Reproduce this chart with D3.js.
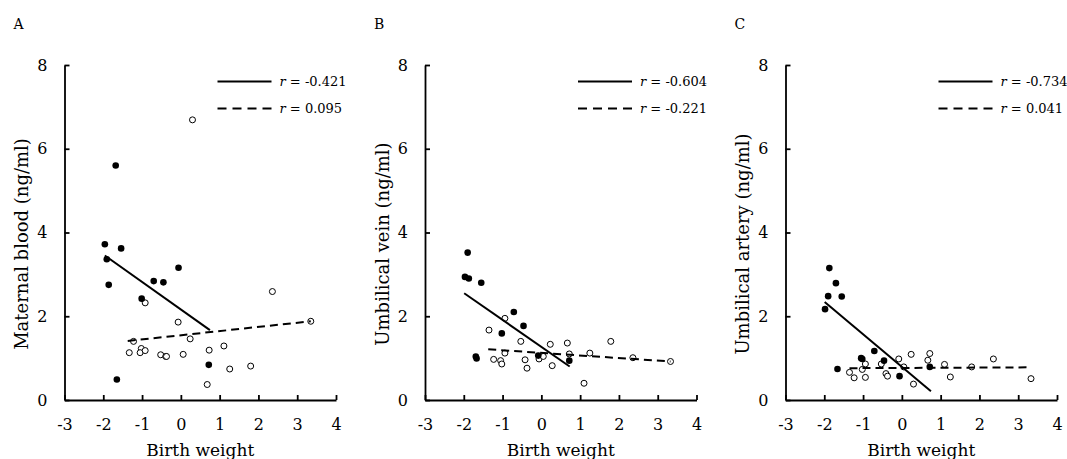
<!DOCTYPE html>
<html>
<head>
<meta charset="utf-8">
<script src="https://cdnjs.cloudflare.com/ajax/libs/d3/7.8.5/d3.min.js"></script>
<style>
    body { margin: 0; background: #fff; }
    svg text { font-family: "DejaVu Serif", "Liberation Serif", serif; fill: #000; }
    .axis path, .axis line { stroke: #000; stroke-width: 1.8; }
</style>
</head>
<body>
<div id="chart"></div>
<script>

// axes
var xTicks = [-3, -2, -1, 0, 1, 2, 3, 4];
var yTicks = [0, 2, 4, 6, 8];

var panelLetters = ["A", "B", "C"];
var yTitles = ["Maternal blood (ng/ml)", "Umbilical vein (ng/ml)", "Umbilical artery (ng/ml)"];
var xTitle = "Birth weight";

// correlation coefficients (solid = filled dots, dashed = open dots)
var rSolid = ["-0.421", "-0.604", "-0.734"];
var rDashed = ["0.095", "-0.221", "0.041"];

// A - maternal blood, [birth weight, value]
var maternalFilled = [[-1.68, 5.60], [-1.96, 3.72], [-1.54, 3.62], [-1.91, 3.36], [-1.86, 2.75],
    [-0.06, 3.16], [-0.70, 2.84], [-0.45, 2.81], [-1.01, 2.42], [0.72, 0.84], [-1.65, 0.49]];
var maternalOpen = [[0.30, 6.69], [2.36, 2.59], [3.35, 1.88], [-0.92, 2.32], [-0.07, 1.86],
    [0.24, 1.46], [-1.22, 1.40], [-1.33, 1.13], [-1.02, 1.23], [-1.05, 1.13], [-0.92, 1.18],
    [-0.52, 1.08], [-0.39, 1.04], [-0.37, 1.04], [0.06, 1.09], [0.73, 1.19], [1.11, 1.29],
    [1.26, 0.74], [1.80, 0.81], [0.68, 0.37]];
var maternalSolidLine = [[-1.96, 3.45], [0.75, 1.67]];
var maternalDashedLine = [[-1.37, 1.41], [3.35, 1.88]];

// B - umbilical vein
var veinFilled = [[-1.90, 3.52], [-1.97, 2.94], [-1.87, 2.90], [-1.55, 2.80], [-0.71, 2.10],
    [-0.46, 1.77], [-1.02, 1.59], [-1.69, 1.04], [-1.67, 0.99], [-0.08, 1.06], [0.72, 0.94]];
var veinOpen = [[-0.94, 1.95], [-1.35, 1.67], [-0.53, 1.40], [0.23, 1.33], [0.67, 1.36],
    [1.79, 1.40], [-0.94, 1.12], [-1.23, 0.97], [-1.05, 0.94], [-1.02, 0.86], [-0.42, 0.96],
    [-0.37, 0.76], [-0.06, 0.98], [0.05, 1.04], [0.28, 0.82], [0.72, 1.10], [1.25, 1.12],
    [2.36, 1.01], [3.33, 0.92], [1.10, 0.40]];
var veinSolidLine = [[-1.99, 2.55], [0.73, 0.80]];
var veinDashedLine = [[-1.37, 1.21], [3.33, 0.92]];

// C - umbilical artery
var arteryFilled = [[-1.87, 3.15], [-1.70, 2.79], [-1.90, 2.48], [-1.55, 2.47], [-1.98, 2.17],
    [-0.71, 1.17], [-1.05, 1.00], [-1.02, 0.98], [-0.46, 0.94], [-1.66, 0.74], [0.72, 0.79],
    [-0.06, 0.57]];
var arteryOpen = [[0.24, 1.09], [0.72, 1.11], [0.67, 0.95], [-0.08, 0.98], [2.36, 0.98],
    [-0.94, 0.86], [-0.53, 0.86], [-1.02, 0.73], [-1.35, 0.66], [-1.23, 0.53], [-0.94, 0.54],
    [-0.41, 0.63], [-0.37, 0.57], [0.05, 0.79], [0.30, 0.38], [1.10, 0.85], [1.25, 0.55],
    [1.80, 0.79], [3.33, 0.51]];
var arterySolidLine = [[-1.99, 2.34], [0.75, 0.21]];
var arteryDashedLine = [[-1.35, 0.76], [3.33, 0.78]];


var svg = d3.select("#chart").append("svg")
    .attr("width", 1067)
    .attr("height", 459);

/*
 * ScatterPanel - one of the three plots
 */
ScatterPanel = function(_index, _filled, _open, _solidLine, _dashedLine){
    this.index = _index;
    this.filled = _filled;
    this.open = _open;
    this.solidLine = _solidLine;
    this.dashedLine = _dashedLine;

    this.initVis();
}

ScatterPanel.prototype.initVis = function(){
    var vis = this;

    vis.left = 64.5 + 360.5 * vis.index;
    vis.width = 271.5;
    vis.top = 65;
    vis.bottom = 400;

    vis.g = svg.append("g")
        .attr("transform", "translate(" + vis.left + ",0)");

    vis.x = d3.scaleLinear()
        .domain([-3, 4])
        .range([0, vis.width]);

    vis.y = d3.scaleLinear()
        .domain([0, 8])
        .range([vis.bottom, vis.top]);

    vis.xAxis = d3.axisBottom(vis.x)
        .tickValues(xTicks)
        .tickFormat(function(d) { return String(d); })
        .tickSizeInner(-5)
        .tickSizeOuter(0)
        .tickPadding(19);

    vis.yAxis = d3.axisLeft(vis.y)
        .tickValues(yTicks)
        .tickSizeInner(-5)
        .tickSizeOuter(0)
        .tickPadding(17);

    vis.updateVis();
}

ScatterPanel.prototype.updateVis = function(){
    var vis = this;

    var xg = vis.g.append("g")
        .attr("class", "x-axis axis")
        .attr("transform", "translate(0," + vis.bottom + ")")
        .call(vis.xAxis);
    xg.selectAll("text").style("font-size", "16px");

    var yg = vis.g.append("g")
        .attr("class", "y-axis axis")
        .call(vis.yAxis);
    yg.selectAll("text").style("font-size", "16px");

    // points
    vis.g.selectAll(".open-dot")
        .data(vis.open)
        .enter().append("circle")
        .attr("class", "open-dot")
        .attr("cx", function(d) { return vis.x(d[0]); })
        .attr("cy", function(d) { return vis.y(d[1]); })
        .attr("r", 3)
        .style("fill", "#fff")
        .style("stroke", "#000")
        .style("stroke-width", 1);

    vis.g.selectAll(".filled-dot")
        .data(vis.filled)
        .enter().append("circle")
        .attr("class", "filled-dot")
        .attr("cx", function(d) { return vis.x(d[0]); })
        .attr("cy", function(d) { return vis.y(d[1]); })
        .attr("r", 3.3)
        .style("fill", "#000");

    // regression lines
    var line = d3.line()
        .x(function(d) { return vis.x(d[0]); })
        .y(function(d) { return vis.y(d[1]); });

    vis.g.append("path")
        .datum(vis.dashedLine)
        .attr("d", line)
        .style("fill", "none")
        .style("stroke", "#000")
        .style("stroke-width", 2)
        .style("stroke-dasharray", "8,5");

    vis.g.append("path")
        .datum(vis.solidLine)
        .attr("d", line)
        .style("fill", "none")
        .style("stroke", "#000")
        .style("stroke-width", 2);

    // legend
    var legend = vis.g.append("g")
        .attr("transform", "translate(153,0)");

    legend.append("line")
        .attr("x1", 0).attr("x2", 54)
        .attr("y1", 81.5).attr("y2", 81.5)
        .style("stroke", "#000").style("stroke-width", 2);

    legend.append("line")
        .attr("x1", 0).attr("x2", 54)
        .attr("y1", 108.5).attr("y2", 108.5)
        .style("stroke", "#000").style("stroke-width", 2)
        .style("stroke-dasharray", "9,6");

    var t1 = legend.append("text")
        .attr("x", 62).attr("y", 86)
        .style("font-size", "13px");
    t1.append("tspan").style("font-style", "italic").text("r");
    t1.append("tspan").text(" = " + rSolid[vis.index]);

    var t2 = legend.append("text")
        .attr("x", 62).attr("y", 113)
        .style("font-size", "13px");
    t2.append("tspan").style("font-style", "italic").text("r");
    t2.append("tspan").text(" = " + rDashed[vis.index]);

    // titles
    vis.g.append("text")
        .attr("x", vis.width / 2)
        .attr("y", 456)
        .attr("text-anchor", "middle")
        .style("font-size", "17px")
        .text(xTitle);

    vis.g.append("text")
        .attr("transform", "translate(-43,244) rotate(-90)")
        .attr("text-anchor", "middle")
        .attr("dominant-baseline", "central")
        .style("font-size", "18px")
        .text(yTitles[vis.index]);

    vis.g.append("text")
        .attr("x", -51)
        .attr("y", 29)
        .style("font-size", "14px")
        .text(panelLetters[vis.index]);
}

new ScatterPanel(0, maternalFilled, maternalOpen, maternalSolidLine, maternalDashedLine);
new ScatterPanel(1, veinFilled, veinOpen, veinSolidLine, veinDashedLine);
new ScatterPanel(2, arteryFilled, arteryOpen, arterySolidLine, arteryDashedLine);

</script>
</body>
</html>
